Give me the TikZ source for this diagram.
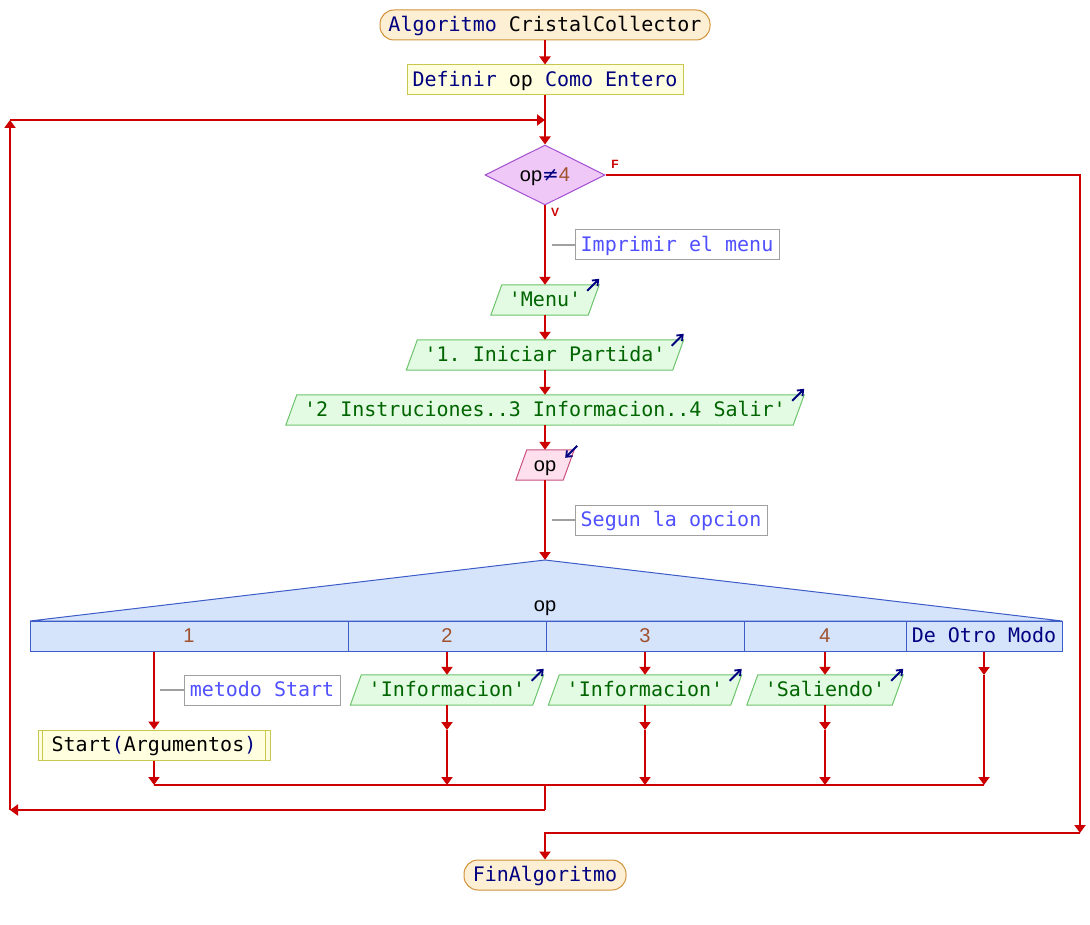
\documentclass[tikz,border=0pt]{standalone}
\usepackage{fontspec}
\setmainfont{DejaVu Sans}
\setmonofont{DejaVu Sans Mono}
\newfontfamily\labfont{Liberation Sans}
\usetikzlibrary{arrows.meta,shapes.geometric,calc}
\pgfdeclarelayer{background}
\pgfsetlayers{background,main}

\definecolor{flowred}{HTML}{CC0000}
\definecolor{kwnavy}{HTML}{000080}
\definecolor{termfill}{HTML}{FDEFD3}
\definecolor{termdraw}{HTML}{D09238}
\definecolor{procfill}{HTML}{FFFFE0}
\definecolor{procdraw}{HTML}{C8C850}
\definecolor{condfill}{HTML}{F0C8F8}
\definecolor{conddraw}{HTML}{A050D0}
\definecolor{outfill}{HTML}{E2FBE2}
\definecolor{outdraw}{HTML}{6CC46C}
\definecolor{outtext}{HTML}{006400}
\definecolor{infill}{HTML}{FDE0EC}
\definecolor{indraw}{HTML}{C85080}
\definecolor{notegray}{HTML}{A0A0A0}
\definecolor{notetext}{HTML}{5050FF}
\definecolor{swfill}{HTML}{D5E3FB}
\definecolor{swdraw}{HTML}{3C5CC8}
\definecolor{casenum}{HTML}{A0522D}

\newcommand\monof{\ttfamily\fontsize{20}{24}\selectfont}
\newcommand\labf{\labfont\fontsize{20}{24}\selectfont}

% parallelogram drawn behind a text node: name, fill, border, slant
\newcommand\paral[4]{%
  \begin{pgfonlayer}{background}
    \path[fill=#2,draw=#3,line width=1pt]
      ([xshift=-#4]#1.south west) -- ([xshift=#4]#1.north west) --
      ([xshift=#4]#1.north east) -- ([xshift=-#4]#1.south east) -- cycle;
  \end{pgfonlayer}}
% output mark (arrow leaving the top right corner)
\newcommand\outmark[1]{%
  \draw[kwnavy,line width=1.8pt,-{Straight Barb[length=5pt,width=8pt]}]
    ([xshift=-6.5pt,yshift=-6pt]#1.north east) -- ([xshift=5.5pt,yshift=6pt]#1.north east);}
% input mark (arrow entering the top right corner)
\newcommand\inmark[1]{%
  \draw[kwnavy,line width=1.8pt,-{Straight Barb[length=5pt,width=8pt]}]
    ([xshift=8.5pt,yshift=4pt]#1.north east) -- ([xshift=-3.5pt,yshift=-8pt]#1.north east);}

\begin{document}
\begin{tikzpicture}[x=1pt,y=-1pt,
  flow/.style={draw=flowred,line width=2pt,-{Triangle[width=11pt,length=8pt]}},
  wire/.style={draw=flowred,line width=2pt},
  noteline/.style={draw=notegray,line width=2pt},
  txt/.style={text height=16pt,text depth=3pt},
  term/.style={txt,draw=termdraw,fill=termfill,line width=1pt,rounded corners=14pt,
    minimum height=30pt,inner sep=0pt,font=\monof},
  proc/.style={txt,draw=procdraw,fill=procfill,line width=1pt,minimum height=30pt,
    inner sep=0pt,font=\monof},
  iotext/.style={txt,minimum height=30pt,inner sep=0pt,font=\monof,text=outtext},
  intext/.style={txt,minimum height=30pt,inner sep=0pt,font=\labf},
  note/.style={txt,draw=notegray,fill=white,line width=1pt,text=notetext,font=\monof,
    minimum height=30pt,inner sep=0pt},
  casebox/.style={txt,draw=swdraw,fill=swfill,line width=1pt,minimum height=30pt,
    inner sep=0pt,font=\labf,text=casenum},
  tf/.style={text=flowred,font=\labfont\bfseries\fontsize{12}{14}\selectfont,inner sep=0pt}
]
\useasboundingbox (0,0) rectangle (1090,925);

% ---- main sequence ----
\node[term,minimum width=330pt] (start) at (545,25)
  {{\color{kwnavy}Algoritmo} CristalCollector};
\node[proc,minimum width=276pt] (def) at (545,80)
  {{\color{kwnavy}Definir} op {\color{kwnavy}Como Entero}};
\node[diamond,draw=conddraw,fill=condfill,line width=1pt,minimum width=120pt,
  minimum height=60pt,inner sep=0pt,aspect=2,font=\labf,txt] (cond) at (545,175)
  {op{\color{kwnavy}\fontspec{DejaVu Sans}≠}{\color{casenum}4}};
\node[tf] (lF) at (615,164) {F};
\node[tf] (lV) at (555,212) {V};

\node[note,minimum width=204pt] (n1) at (677,245) {Imprimir el menu};

\node[iotext,minimum width=97pt] (menu) at (545,300) {'Menu'};
\paral{menu}{outfill}{outdraw}{5.5pt}\outmark{menu}
\node[iotext,minimum width=266pt] (l1) at (545,355) {'1. Iniciar Partida'};
\paral{l1}{outfill}{outdraw}{5.5pt}\outmark{l1}
\node[iotext,minimum width=507pt] (l2) at (545,410) {'2 Instruciones..3 Informacion..4 Salir'};
\paral{l2}{outfill}{outdraw}{5.5pt}\outmark{l2}
\node[intext,minimum width=47pt] (inp) at (545,465) {op};
\paral{inp}{infill}{indraw}{5.5pt}\inmark{inp}

\node[note,minimum width=192pt] (n2) at (671,520) {Segun la opcion};

% ---- switch ----
\coordinate (apex) at (545,560);
\path[fill=swfill,draw=swdraw,line width=1pt] (apex) -- (1062,621) -- (30,621) -- cycle;
\node[font=\labf,inner sep=0pt,txt] (swl) at (545,605) {op};
\node[casebox,minimum width=318pt] (k1) at (189,636) {1};
\node[casebox,minimum width=198pt] (k2) at (447,636) {2};
\node[casebox,minimum width=198pt] (k3) at (645,636) {3};
\node[casebox,minimum width=162pt] (k4) at (825,636) {4};
\node[casebox,minimum width=156pt,font=\monof,text=kwnavy] (k5) at (984,636) {De Otro Modo};

% ---- branches ----
\node[note,minimum width=156pt] (n3) at (262,690) {metodo Start};
\node[proc,minimum width=232pt] (sub) at (154,745)
  {Start{\color{kwnavy}(}Argumentos{\color{kwnavy})}};
\draw[procdraw,line width=1pt] ([xshift=5pt]sub.north west) -- ([xshift=5pt]sub.south west)
  ([xshift=-5pt]sub.north east) -- ([xshift=-5pt]sub.south east);

\node[iotext,minimum width=182pt] (i2) at (447,690) {'Informacion'};
\paral{i2}{outfill}{outdraw}{5.5pt}\outmark{i2}
\node[iotext,minimum width=182pt] (i3) at (645,690) {'Informacion'};
\paral{i3}{outfill}{outdraw}{5.5pt}\outmark{i3}
\node[iotext,minimum width=145pt] (i4) at (825,690) {'Saliendo'};
\paral{i4}{outfill}{outdraw}{5.5pt}\outmark{i4}

\node[term,minimum width=162pt] (fin) at (545,875) {{\color{kwnavy}FinAlgoritmo}};

% ---- connector points ----
\coordinate (join) at (545,120);
\coordinate (tl) at (10,120);
\coordinate (bl) at (10,810);
\coordinate (merge) at (545,785);
\coordinate (back) at (545,810);
\coordinate (fr) at (1080,175);
\coordinate (frb) at (1080,833);
\coordinate (endj) at (545,833);
\coordinate (r2) at (447,730);
\coordinate (r3) at (645,730);
\coordinate (r4) at (825,730);
\coordinate (r5) at (984,675);

% ---- connectors ----
\draw[flow] (start) -- (def);
\draw[wire] (def) -- (join);
\draw[flow] (join) -- (cond.north);
\draw[flow] (cond.east) -- (fr) -- (frb);
\draw[flow] (frb) -- (endj) -- (fin.north);
\draw[flow] (cond.south) -- (menu.north);
\draw[noteline] ([xshift=-23pt]n1.west) -- (n1.west);
\draw[flow] (menu) -- (l1);
\draw[flow] (l1) -- (l2);
\draw[flow] (l2) -- (inp);
\draw[flow] (inp.south) -- (apex);
\draw[noteline] ([xshift=-23pt]n2.west) -- (n2.west);

\draw[flow] (k1.south -| sub.north) -- (sub.north);
\draw[noteline] ([xshift=-24pt]n3.west) -- (n3.west);
\draw[flow] (sub.south) -- (sub.south |- merge);
\draw[flow] (k2.south) -- (i2.north);
\draw[flow] (i2.south) -- (r2);
\draw[flow] (r2) -- (r2 |- merge);
\draw[flow] (k3.south) -- (i3.north);
\draw[flow] (i3.south) -- (r3);
\draw[flow] (r3) -- (r3 |- merge);
\draw[flow] (k4.south) -- (i4.north);
\draw[flow] (i4.south) -- (r4);
\draw[flow] (r4) -- (r4 |- merge);
\draw[flow] (k5.south) -- (r5);
\draw[flow] (r5) -- (r5 |- merge);
\draw[wire] (sub.south |- merge) -- (r5 |- merge);

\draw[wire] (merge) -- (back);
\draw[flow] (back) -- (bl);
\draw[flow] (bl) -- (tl);
\draw[flow] (tl) -- (join);
\end{tikzpicture}
\end{document}
